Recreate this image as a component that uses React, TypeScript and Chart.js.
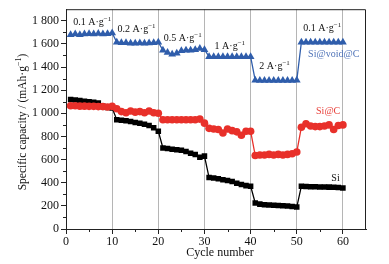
import React, { useEffect, useRef } from "react";
import { Chart, registerables } from "chart.js";

Chart.register(...registerables);

const cycles: number[] = Array.from({ length: 60 }, (_, i) => i + 1);

const siVoidC: number[] = [
  1680, 1685, 1680, 1685, 1688, 1685, 1690, 1685, 1688, 1695,
  1615, 1610, 1610, 1605, 1605, 1608, 1605, 1608, 1610, 1615,
  1545, 1525, 1510, 1520, 1540, 1545, 1545, 1550, 1560, 1550,
  1490, 1488, 1488, 1488, 1488, 1488, 1488, 1488, 1488, 1490,
  1285, 1283, 1283, 1283, 1283, 1283, 1283, 1283, 1283, 1285,
  1615, 1615, 1615, 1615, 1615, 1615, 1615, 1615, 1615, 1615,
];

const siC: number[] = [
  1065, 1065, 1062, 1062, 1060, 1060, 1058, 1058, 1055, 1060,
  1040, 1015, 1005, 1020, 1010, 1015, 1005, 1020, 1005, 1000,
  945, 945, 945, 945, 945, 945, 945, 945, 950, 915,
  870, 865, 860, 830, 865, 850, 840, 810, 845, 845,
  635, 640, 640, 645, 640, 645, 640, 645, 650, 665,
  880, 910, 890, 885, 885, 890, 900, 860, 895, 900,
];

const si: number[] = [
  1120, 1115, 1110, 1105, 1100, 1095, 1090, 1060, 1050, 1045,
  945, 940, 935, 930, 920, 915, 905, 895, 875, 845,
  700, 695, 690, 685, 680, 670, 655, 645, 620, 630,
  445, 440, 435, 425, 420, 410, 395, 385, 375, 370,
  225, 215, 210, 208, 205, 203, 200, 198, 195, 190,
  370, 368, 366, 365, 364, 363, 362, 360, 358, 355,
];

const xTicks: number[] = [0, 10, 20, 30, 40, 50, 60];
const xMinorTicks: number[] = [5, 15, 25, 35, 45, 55];
const yTicks: number[] = [0, 200, 400, 600, 800, 1000, 1200, 1400, 1600, 1800];
const yMinorTicks: number[] = [100, 300, 500, 700, 900, 1100, 1300, 1500, 1700];

const rateLabels: string[] = ["0.1 A·g", "0.2 A·g", "0.5 A·g", "1 A·g", "2 A·g", "0.1 A·g"];
const rateLabelX: number[] = [5.7, 15.3, 25.3, 35.5, 45.2, 55.5];
const rateLabelY: number[] = [1784, 1725, 1648, 1575, 1406, 1733];

const seriesNames: string[] = ["Si@void@C", "Si@C", "Si"];
const seriesColors: string[] = ["#2f5dab", "#e8302a", "#000000"];
const seriesLabelColors: string[] = ["#4f73b8", "#e8403a", "#111111"];
const seriesLabelX: number[] = [58.0, 56.8, 58.4];
const seriesLabelY: number[] = [1513, 1014, 440];

const FONT = "'Liberation Serif', 'Times New Roman', serif";

function fmt(v: number): string {
  const s = String(v);
  return s.length > 3 ? s.slice(0, s.length - 3) + " " + s.slice(s.length - 3) : s;
}

function drawWithSup(ctx: CanvasRenderingContext2D, base: string, sup: string, cx: number, cy: number, size: number, color: string) {
  ctx.save();
  ctx.fillStyle = color;
  ctx.textBaseline = "middle";
  ctx.font = `${size}px ${FONT}`;
  const bw = ctx.measureText(base).width;
  ctx.font = `${size * 0.7}px ${FONT}`;
  const sw = ctx.measureText(sup).width;
  const start = cx - (bw + sw) / 2;
  ctx.textAlign = "left";
  ctx.font = `${size}px ${FONT}`;
  ctx.fillText(base, start, cy);
  ctx.font = `${size * 0.7}px ${FONT}`;
  ctx.fillText(sup, start + bw, cy - size * 0.35);
  ctx.restore();
}

const decorPlugin = {
  id: "decor",
  afterDraw(chart: any) {
    const ctx: CanvasRenderingContext2D = chart.ctx;
    const { left, right, top, bottom } = chart.chartArea;
    const xs = chart.scales.x;
    const ys = chart.scales.y;
    ctx.save();
    // frame
    ctx.strokeStyle = "#222";
    ctx.lineWidth = 1;
    ctx.beginPath();
    ctx.moveTo(left, top + 0.5);
    ctx.lineTo(right - 0.5, top + 0.5);
    ctx.lineTo(right - 0.5, bottom);
    ctx.stroke();
    // minor ticks
    ctx.beginPath();
    xMinorTicks.forEach((v) => {
      const px = Math.round(xs.getPixelForValue(v)) + 0.5;
      ctx.moveTo(px, bottom);
      ctx.lineTo(px, bottom + 3);
    });
    yMinorTicks.forEach((v) => {
      const py = Math.round(ys.getPixelForValue(v)) + 0.5;
      ctx.moveTo(left, py);
      ctx.lineTo(left - 3, py);
    });
    ctx.stroke();
    // rate labels
    rateLabels.forEach((t, i) => {
      drawWithSup(ctx, t, "−1", xs.getPixelForValue(rateLabelX[i]), ys.getPixelForValue(rateLabelY[i]), 10, "#111");
    });
    // series labels
    ctx.font = `10px ${FONT}`;
    ctx.textAlign = "center";
    ctx.textBaseline = "middle";
    seriesNames.forEach((n, i) => {
      ctx.fillStyle = seriesLabelColors[i];
      ctx.fillText(n, xs.getPixelForValue(seriesLabelX[i]), ys.getPixelForValue(seriesLabelY[i]));
    });
    // axis titles
    ctx.fillStyle = "#111";
    ctx.font = `12px ${FONT}`;
    ctx.textAlign = "center";
    ctx.textBaseline = "middle";
    ctx.fillText("Cycle number", (left + right) / 2 + 4, bottom + 24);
    ctx.save();
    ctx.translate(23, 122);
    ctx.rotate(-Math.PI / 2);
    ctx.font = `11.5px ${FONT}`;
    const base = "Specific capacity / (mAh·g";
    const bw = ctx.measureText(base).width;
    ctx.font = `8px ${FONT}`;
    const sw = ctx.measureText("−1").width;
    ctx.font = `11.5px ${FONT}`;
    const rest = ")";
    const rw = ctx.measureText(rest).width;
    const start = -(bw + sw + rw) / 2;
    ctx.textAlign = "left";
    ctx.fillText(base, start, 0);
    ctx.font = `8px ${FONT}`;
    ctx.fillText("−1", start + bw, -4);
    ctx.font = `11.5px ${FONT}`;
    ctx.fillText(rest, start + bw + sw, 0);
    ctx.restore();
    ctx.restore();
  },
};

export default function App() {
  const ref = useRef<HTMLCanvasElement | null>(null);
  useEffect(() => {
    if (!ref.current) return;
    const series = [siVoidC, siC, si];
    const styles = ["triangle", "circle", "rect"];
    const radii = [4.5, 3.8, 3.9];
    const chart = new Chart(ref.current, {
      type: "line",
      data: {
        labels: cycles,
        datasets: series.map((s, i) => ({
          label: seriesNames[i],
          data: s.map((v, j) => ({ x: cycles[j], y: v })),
          borderColor: seriesColors[i],
          backgroundColor: seriesColors[i],
          pointBackgroundColor: seriesColors[i],
          pointBorderColor: seriesColors[i],
          pointStyle: styles[i] as any,
          pointRadius: radii[i],
          pointBorderWidth: 0,
          borderWidth: 1.3,
          tension: 0,
        })),
      },
      options: {
        animation: false,
        responsive: false,
        maintainAspectRatio: false,
        layout: { padding: { left: 0, right: 23, top: 5, bottom: 0 } },
        plugins: { legend: { display: false }, tooltip: { enabled: false } },
        scales: {
          x: {
            type: "linear",
            min: 0,
            max: 65,
            afterBuildTicks: (axis: any) => {
              axis.ticks = xTicks.map((v) => ({ value: v }));
            },
            afterFit: (axis: any) => {
              axis.height = 35;
            },
            border: { color: "#222", width: 1 },
            grid: {
              color: (c: any) => (c.tick && c.tick.value === 0 ? "rgba(0,0,0,0)" : "#b5b5b5"),
              tickColor: "#222",
              tickLength: 5,
              drawTicks: true,
              lineWidth: 1,
            },
            ticks: {
              color: "#111",
              font: { family: FONT, size: 12 },
              padding: 1,
              maxRotation: 0,
            },
          },
          y: {
            type: "linear",
            min: 0,
            max: 1900,
            afterBuildTicks: (axis: any) => {
              axis.ticks = yTicks.map((v) => ({ value: v }));
            },
            afterFit: (axis: any) => {
              axis.width = 66;
            },
            border: { color: "#222", width: 1 },
            grid: {
              drawOnChartArea: false,
              tickColor: "#222",
              tickLength: 5,
            },
            ticks: {
              color: "#111",
              font: { family: FONT, size: 12 },
              padding: 2,
              callback: (v: any) => fmt(Number(v)),
            },
          },
        },
      },
      plugins: [decorPlugin],
    });
    return () => chart.destroy();
  }, []);
  return (
    <div style={{ position: "fixed", left: 0, top: 0, width: 389, height: 264, background: "#fff" }}>
      <canvas ref={ref} width={389} height={264} style={{ width: 389, height: 264 }} />
    </div>
  );
}
